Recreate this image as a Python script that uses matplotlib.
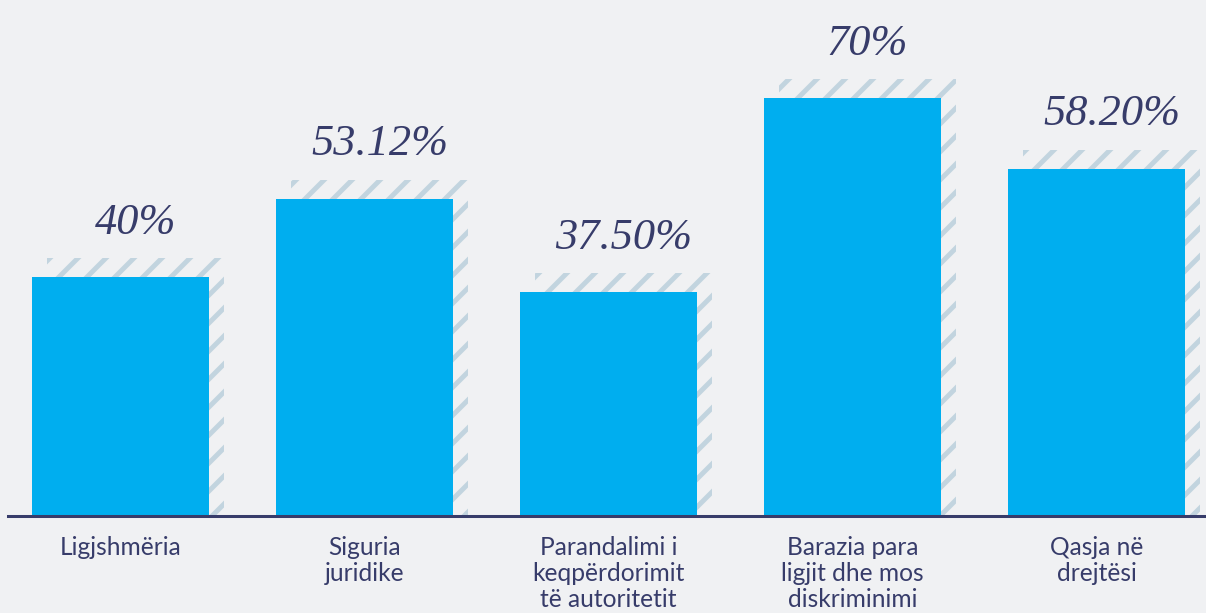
import numpy as np
import matplotlib
matplotlib.use("Agg")
import matplotlib.pyplot as plt

# data
categories = ["Ligjshmëria", "Siguria\njuridike", "Parandalimi i\nkeqpërdorimit\ntë autoritetit",
              "Barazia para\nligjit dhe mos\ndiskriminimi", "Qasja në\ndrejtësi"]
values = [40, 53.12, 37.50, 70, 58.20]
value_labels = ["40%", "53.12%", "37.50%", "70%", "58.20%"]

bg = "#f0f1f3"
blue = "#00aeef"
navy = "#373c6a"
stripe = "#c2d4df"

DPI = 84
plt.rcParams["hatch.linewidth"] = 4.2

fig = plt.figure(figsize=(1206 / DPI, 613 / DPI), dpi=DPI, facecolor=bg)
ax = fig.add_axes([8 / 1206, 97 / 613, 1198 / 1206, 516 / 613])
ax.set_facecolor(bg)

x = np.arange(len(values))
w = 177 / 244
dx = 15 / 244      # shadow shift right
dy = 19 / 5.97     # shadow shift up

# hatched shadow behind each bar
ax.bar(x + dx, np.array(values) + dy, width=w, facecolor="none", edgecolor=stripe,
       linewidth=0, hatch="/", zorder=1)
ax.bar(x, values, width=w, color=blue, linewidth=0, zorder=2)

for xi, v, lab in zip(x, values, value_labels):
    ax.annotate(lab, xy=(xi + dx, v + dy), xytext=(0, 21), textcoords="offset points",
                ha="center", va="baseline", fontsize=38, color=navy,
                family="Liberation Serif", style="italic")

ax.set_xlim(-112.5 / 244, -112.5 / 244 + 1198 / 244)
ax.set_ylim(0, 516 / 5.97)

for s in ["top", "right", "left"]:
    ax.spines[s].set_visible(False)
ax.spines["bottom"].set_color(navy)
ax.spines["bottom"].set_linewidth(2.6)
ax.spines["bottom"].set_zorder(3)

ax.set_yticks([])
ax.set_xticks(x)
ax.set_xticklabels(categories, fontsize=21, color=navy, family="Lato", linespacing=1.15,
                   ha="center", va="top", multialignment="center")
ax.tick_params(axis="x", length=0, pad=17)

fig.savefig("out.png", dpi=DPI, facecolor=bg)
